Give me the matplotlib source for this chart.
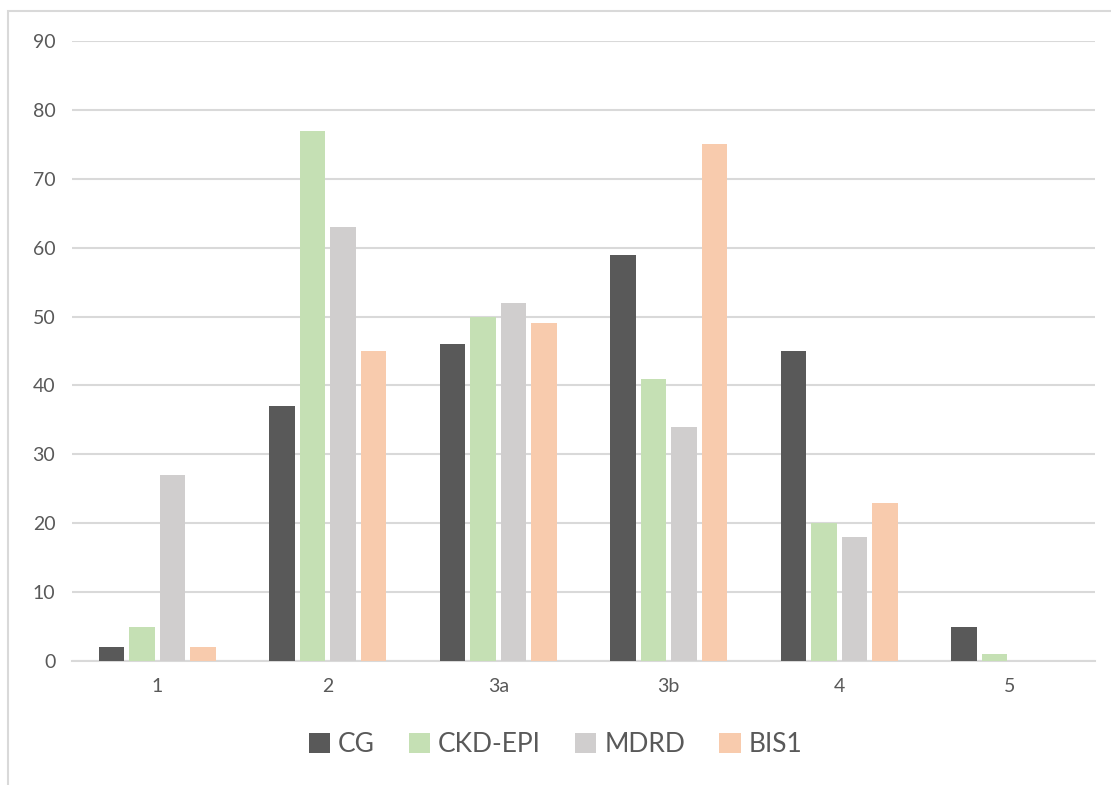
import numpy as np
import matplotlib.pyplot as plt
from matplotlib.patches import Rectangle

plt.rcParams['font.family'] = ['Lato', 'DejaVu Sans']

categories = ['1', '2', '3a', '3b', '4', '5']
series_names = ['CG', 'CKD-EPI', 'MDRD', 'BIS1']
cg = [2, 37, 46, 59, 45, 5]
ckd_epi = [5, 77, 50, 41, 20, 1]
mdrd = [27, 63, 52, 34, 18, 0]
bis1 = [2, 45, 49, 75, 23, 0]
colors = ['#595959', '#C5E0B4', '#D0CECE', '#F8CBAD']

text_col = '#595959'
grid_col = '#D9D9D9'

fig = plt.figure(figsize=(11.11, 7.85), dpi=100)
ax = fig.add_axes([72/1111, 124/785, 1023/1111, 620/785])

x = np.arange(len(categories))
width = 0.152
step = 0.179
for i, (name, vals) in enumerate(zip(series_names, [cg, ckd_epi, mdrd, bis1])):
    ax.bar(x + (i - 1.5)*step, vals, width, color=colors[i], label=name, zorder=3)

ax.set_xlim(-0.5, len(categories) - 0.5)
ax.set_ylim(0, 90)
ax.set_yticks(range(0, 91, 10))
ax.set_xticks(x)
ax.set_xticklabels(categories)
ax.yaxis.grid(True, color=grid_col, linewidth=1.5, zorder=0)
for s in ['top', 'right', 'left']:
    ax.spines[s].set_visible(False)
ax.spines['bottom'].set_color(grid_col)
ax.spines['bottom'].set_linewidth(1.5)
ax.tick_params(axis='both', length=0, labelsize=14, labelcolor=text_col)
ax.tick_params(axis='y', pad=12)
ax.tick_params(axis='x', pad=12)

leg = fig.legend(loc='center', bbox_to_anchor=(0.5, 1 - 745/785), ncol=4, frameon=False,
                 fontsize=19, handlelength=0.8, handleheight=0.8, handletextpad=0.3,
                 columnspacing=1.3)
for t in leg.get_texts():
    t.set_color(text_col)

# outer chart border (cropped on right and bottom)
fig.patches.append(Rectangle((8/1111, -0.1), 1.2, 1.1 - 11/785, transform=fig.transFigure,
                             fill=False, edgecolor=grid_col, linewidth=1.5))

fig.savefig('out.png', dpi=100)
